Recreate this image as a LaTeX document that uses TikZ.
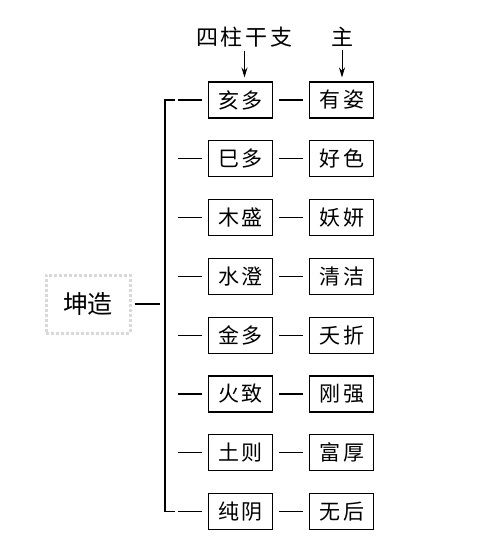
\documentclass[tikz,border=0pt]{standalone}
\usepackage{fontspec}
\setmainfont{Noto Sans CJK SC}
\usetikzlibrary{positioning,arrows.meta}
\newcommand{\cg}{\hspace{3pt}}
\begin{document}
\begin{tikzpicture}[x=1pt,y=-1pt,thick,>={Stealth[length=10pt,width=6pt]},node distance=21.7pt and 36pt,
    main node/.style={rectangle,draw,line width=1.1pt,minimum width=64pt,minimum height=36pt,inner sep=0pt,font=\fontsize{21}{24}\selectfont},
    head node/.style={inner sep=1pt,font=\fontsize{22}{26}\selectfont},
    link line/.style={line width=1.1pt}]
    \useasboundingbox (0,0) rectangle (485,544);

    \node (root) [rectangle, draw=gray!30, dotted, line width=3pt, minimum width=84pt, minimum height=58pt, font=\fontsize{25}{28}\selectfont] at (88,304) {坤造};

    \node [main node](L1) at (240.5,100) {亥\cg 多};
    \node [main node](L2) [below=of L1] {巳\cg 多};
    \node [main node](L3) [below=of L2] {木\cg 盛};
    \node [main node](L4) [below=of L3] {水\cg 澄};
    \node [main node](L5) [below=of L4] {金\cg 多};
    \node [main node](L6) [below=of L5] {火\cg 致};
    \node [main node](L7) [below=of L6] {土\cg 则};
    \node [main node](L8) [below=of L7] {纯\cg 阴};

    \node [main node](R1) [right=of L1] {有\cg 姿};
    \node [main node](R2) [right=of L2] {好\cg 色};
    \node [main node](R3) [right=of L3] {妖\cg 妍};
    \node [main node](R4) [right=of L4] {清\cg 洁};
    \node [main node](R5) [right=of L5] {夭\cg 折};
    \node [main node](R6) [right=of L6] {刚\cg 强};
    \node [main node](R7) [right=of L7] {富\cg 厚};
    \node [main node](R8) [right=of L8] {无\cg 后};

    \node [head node](h1) at (244.5,37) {四\cg 柱\cg 干\cg 支};
    \node [head node](h2) at (342,37) {主};

    % bracket
    \coordinate (b0) at (165,304);
    \foreach \i in {1,...,8}
        \coordinate (b\i) at (L\i -| b0);
    \draw [link line] ([xshift=10pt]b1) -- (b1) -- (b8) -- ([xshift=10pt]b8);

    \draw [->, line width=0.9pt, shorten <=2pt, shorten >=4pt] (h1) -- (h1 |- L1.north);
    \draw [->, line width=0.9pt, shorten <=2pt, shorten >=4pt] (h2) -- (h2 |- R1.north);

    \draw [link line, shorten <=3pt, shorten >=5pt] (root) -- (b0);
    \foreach \i in {1,...,8} {
        \draw [link line, shorten <=13pt, shorten >=6pt] (b\i) -- (L\i);
        \draw [link line, shorten <=6pt, shorten >=6pt] (L\i) -- (R\i);
    }
\end{tikzpicture}
\end{document}
